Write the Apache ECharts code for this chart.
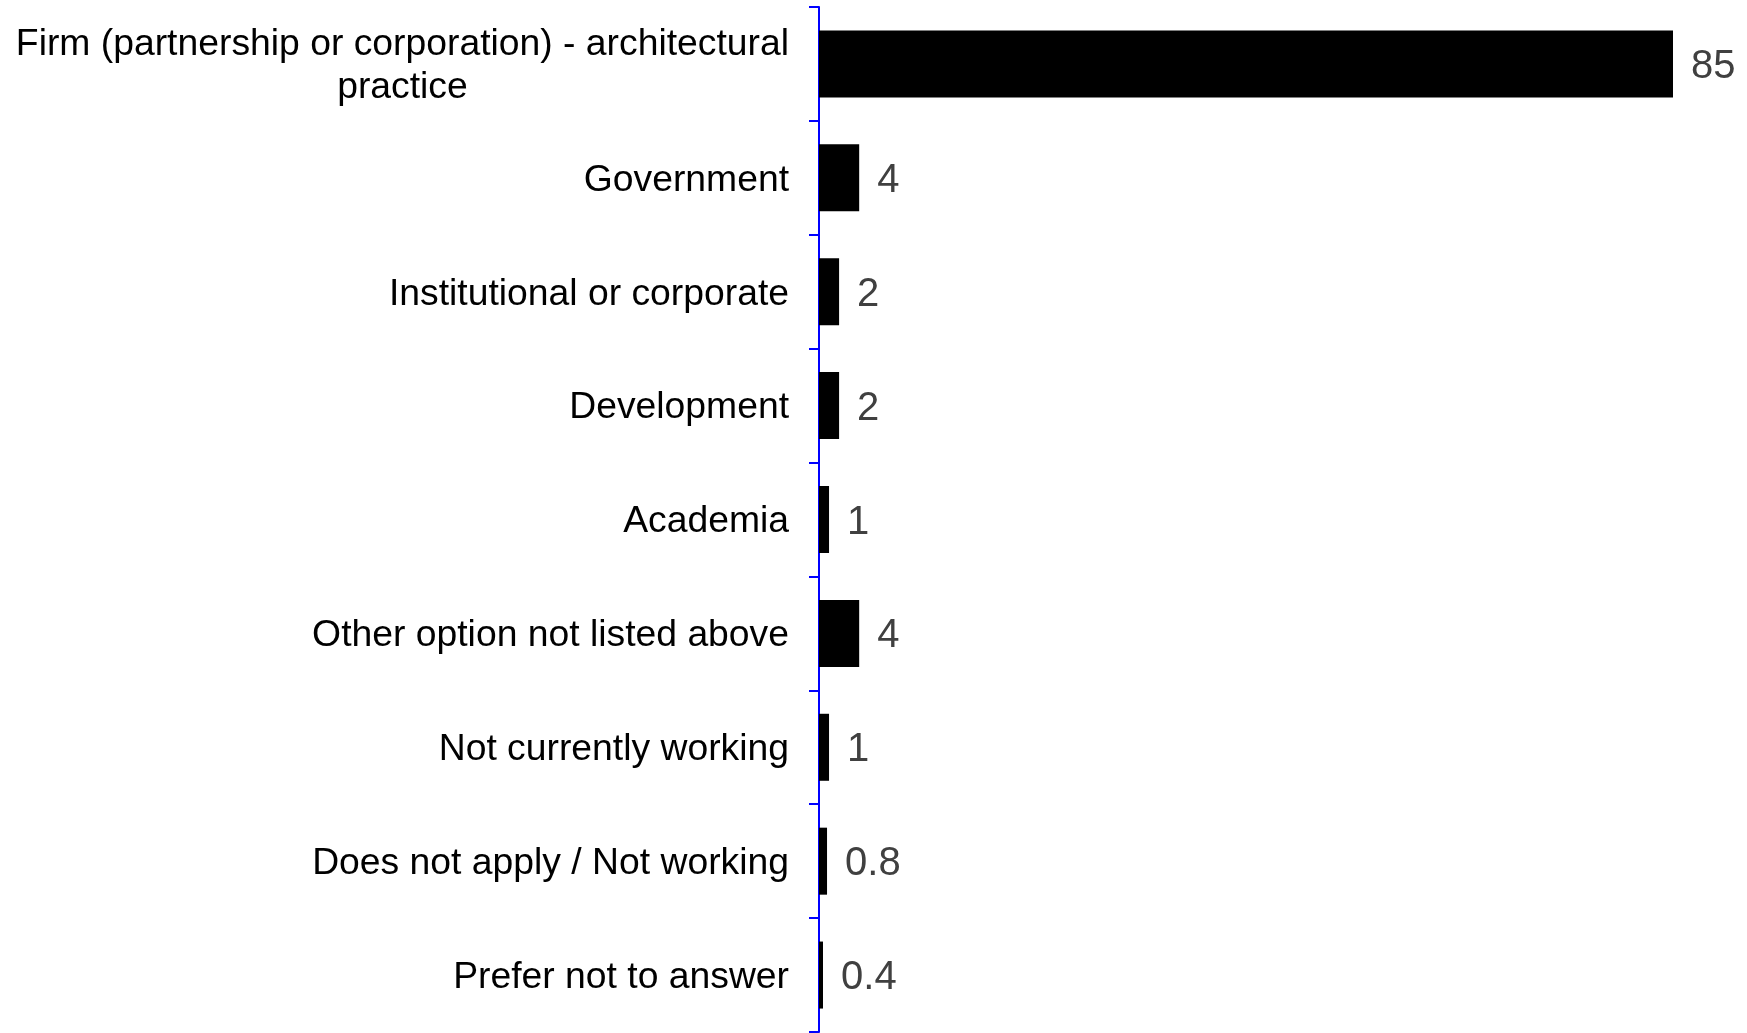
<!DOCTYPE html>
<html>
<head>
<meta charset="utf-8">
<title>Work setting</title>
<script src="https://cdn.jsdelivr.net/npm/echarts@6/dist/echarts.min.js"></script>
<style>
  html, body { margin: 0; padding: 0; background: #ffffff; }
  #chart { width: 1747px; height: 1033px; }
</style>
</head>
<body>
<div id="chart"></div>
<script>
// Categories, top to bottom
const categories = [
  'Firm (partnership or corporation) - architectural\npractice',
  'Government',
  'Institutional or corporate',
  'Development',
  'Academia',
  'Other option not listed above',
  'Not currently working',
  'Does not apply / Not working',
  'Prefer not to answer'
];

// Share of respondents (%)
const values = [85, 4, 2, 2, 1, 4, 1, 0.8, 0.4];

const FONT = '"Liberation Sans", Arial, sans-serif';

const chart = echarts.init(document.getElementById('chart'), null, { renderer: 'canvas' });

chart.setOption({
  animation: false,
  backgroundColor: '#ffffff',
  textStyle: { fontFamily: FONT },
  grid: { left: 819, right: 74, top: 7, bottom: 1, containLabel: false },
  xAxis: {
    type: 'value',
    min: 0,
    max: 85,
    show: false
  },
  yAxis: {
    type: 'category',
    data: categories,
    inverse: true,
    offset: 3,
    axisLine: { show: true, lineStyle: { color: '#0000ff', width: 2 } },
    axisTick: { show: true, length: 10, lineStyle: { color: '#0000ff', width: 2 } },
    axisLabel: {
      margin: 27,
      color: '#000000',
      fontSize: 37.3,
      fontFamily: FONT,
      lineHeight: 43,
      padding: [5, 0, 0, 0],
      formatter: function (v) {
        return v.split('\n').map(function (s) { return '{c|' + s + '}'; }).join('\n');
      },
      rich: {
        c: {
          align: 'center',
          color: '#000000',
          fontSize: 37.3,
          lineHeight: 43,
          fontFamily: FONT
        }
      }
    },
    splitLine: { show: false }
  },
  series: [{
    type: 'bar',
    data: values,
    barWidth: 67,
    itemStyle: { color: '#000000' },
    label: {
      show: true,
      position: 'right',
      distance: 18,
      offset: [0, 3],
      color: '#404040',
      fontSize: 40,
      fontFamily: FONT
    }
  }]
});
</script>
</body>
</html>
